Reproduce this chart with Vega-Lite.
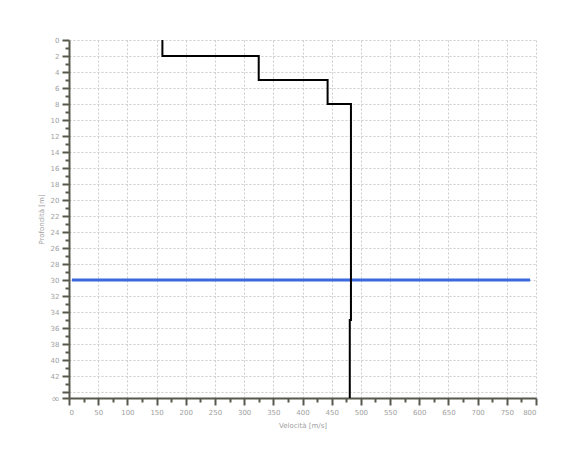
{
  "$schema": "https://vega.github.io/schema/vega-lite/v6.json",
  "width": 467,
  "height": 358,
  "autosize": {"type": "none"},
  "padding": {"left": 69, "top": 40, "right": 34, "bottom": 52},
  "background": "white",
  "config": {
    "view": {"stroke": null},
    "font": "DejaVu Sans",
    "axis": {
      "labelFont": "DejaVu Sans",
      "titleFont": "DejaVu Sans",
      "labelColor": "#a0a0a0",
      "titleColor": "#a0a0a0",
      "labelFontSize": 7,
      "titleFontSize": 7,
      "titleFontWeight": "normal",
      "domainColor": "#58584f",
      "domainWidth": 2,
      "tickColor": "#58584f",
      "tickWidth": 2,
      "gridColor": "#cccccc",
      "gridDash": [2, 2],
      "gridWidth": 1
    }
  },
  "datasets": {
    "profile": [
      {"v": 160, "d": 0, "o": 1},
      {"v": 160, "d": 2, "o": 2},
      {"v": 325, "d": 2, "o": 3},
      {"v": 325, "d": 5, "o": 4},
      {"v": 443, "d": 5, "o": 5},
      {"v": 443, "d": 8, "o": 6},
      {"v": 483, "d": 8, "o": 7},
      {"v": 483, "d": 35, "o": 8},
      {"v": 481, "d": 35, "o": 9},
      {"v": 481, "d": 44.75, "o": 10}
    ],
    "water": [
      {"v": 5, "v2": 790, "d": 30}
    ]
  },
  "layer": [
    {
      "data": {"name": "water"},
      "mark": {"type": "rule", "color": "#3a68e0", "strokeWidth": 3},
      "encoding": {
        "x": {
          "field": "v", "type": "quantitative",
          "scale": {"domain": [0, 800], "nice": false, "zero": false},
          "axis": {
            "orient": "bottom",
            "values": [25, 75, 125, 175, 225, 275, 325, 375, 425, 475, 525, 575, 625, 675, 725, 775],
            "labels": false, "grid": false, "domain": false, "tickSize": 4, "title": null
          }
        },
        "x2": {"field": "v2"},
        "y": {
          "field": "d", "type": "quantitative",
          "scale": {"domain": [0, 44.75], "nice": false, "zero": false, "reverse": true},
          "axis": {
            "orient": "left",
            "values": [1, 3, 5, 7, 9, 11, 13, 15, 17, 19, 21, 23, 25, 27, 29, 31, 33, 35, 37, 39, 41, 43],
            "labels": false, "grid": false, "domain": false, "tickSize": 4, "title": null
          }
        }
      }
    },
    {
      "data": {"name": "profile"},
      "mark": {"type": "line", "color": "black", "strokeWidth": 2, "interpolate": "linear"},
      "encoding": {
        "x": {
          "field": "v", "type": "quantitative",
          "scale": {"domain": [0, 800], "nice": false, "zero": false},
          "axis": {
            "orient": "bottom",
            "values": [0, 50, 100, 150, 200, 250, 300, 350, 400, 450, 500, 550, 600, 650, 700, 750, 800],
            "grid": true, "tickSize": 7, "labelPadding": 3,
            "title": "Velocità [m/s]", "titlePadding": 6
          }
        },
        "y": {
          "field": "d", "type": "quantitative",
          "scale": {"domain": [0, 44.75], "nice": false, "zero": false, "reverse": true},
          "axis": {
            "orient": "left",
            "values": [0, 2, 4, 6, 8, 10, 12, 14, 16, 18, 20, 22, 24, 26, 28, 30, 32, 34, 36, 38, 40, 42, 44, 44.75],
            "labelExpr": "datum.value > 44.5 ? '∞' : (datum.value == 44 ? '' : datum.label)",
            "labelFontSize": {"condition": {"test": "datum.value > 44.5", "value": 10}, "value": 7},
            "labelOverlap": false,
            "labelBound": false,
            "grid": true, "tickSize": 7, "labelPadding": 3,
            "title": "Profondità [m]", "titlePadding": 6
          }
        },
        "order": {"field": "o", "type": "quantitative"}
      }
    }
  ],
  "resolve": {"axis": {"x": "independent", "y": "independent"}}
}
